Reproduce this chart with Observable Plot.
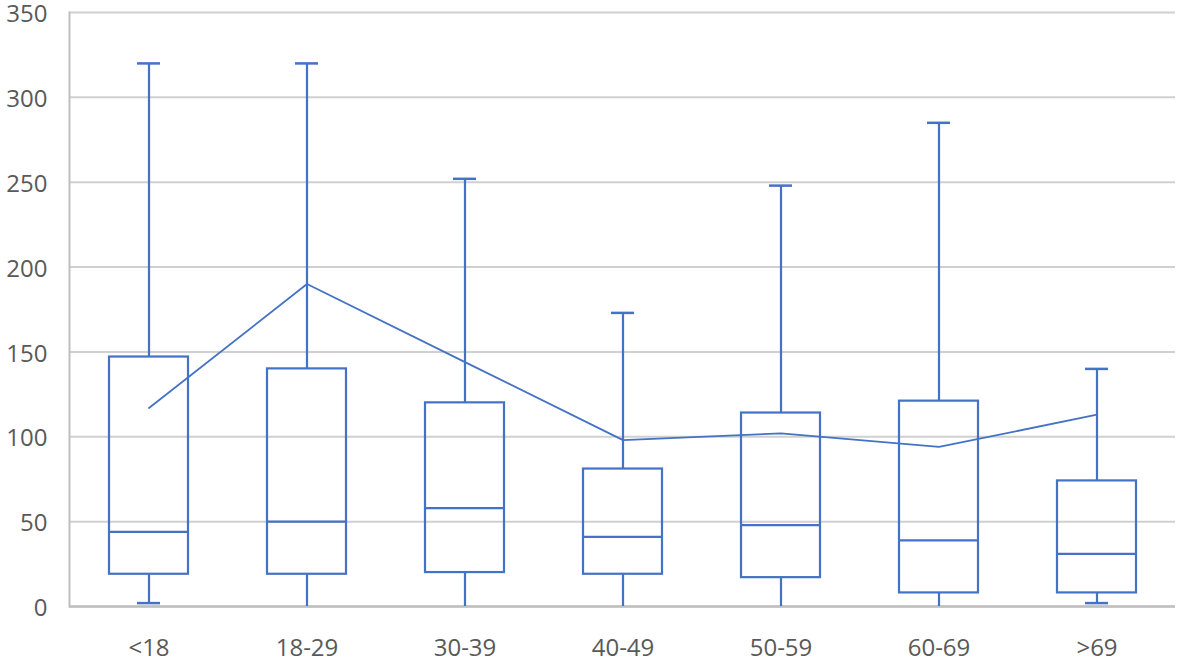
<!DOCTYPE html>
<html><head><meta charset="utf-8">
<script src="https://cdn.jsdelivr.net/npm/d3@7"></script>
<script src="https://cdn.jsdelivr.net/npm/@observablehq/plot@0.6"></script>
<style>body{margin:0;background:#fff}</style>
</head><body><div id="chart"></div>
<script>
const groups = ["<18","18-29","30-39","40-49","50-59","60-69",">69"];
const minV   = [2, 0, 0, 0, 0, 0, 2];
const q1V    = [19, 19, 20, 19, 17, 8, 8];
const medV   = [44, 50, 58, 41, 48, 39, 31];
const q3V    = [147, 140, 120, 81, 114, 121, 74];
const maxV   = [320, 320, 252, 173, 248, 285, 140];
const meanV  = [117, 190, 144, 98, 102, 94, 113];
const yTicks = [0, 50, 100, 150, 200, 250, 300, 350];

const data = groups.map((g, i) => ({g, min: minV[i], q1: q1V[i], med: medV[i], q3: q3V[i], max: maxV[i], mean: meanV[i]}));
const blue = "#4472C4";
const capData = data.filter(d => d.min > 0);

const chart = Plot.plot({
  width: 1180, height: 663,
  marginLeft: 69, marginRight: 5, marginTop: 12, marginBottom: 57,
  style: {fontFamily: "'Open Sans', sans-serif", fontSize: "24px", color: "#595959", background: "#fff", overflow: "visible"},
  x: {domain: groups, paddingInner: 0.5, paddingOuter: 0.25, label: null},
  y: {domain: [0, 350], ticks: yTicks, label: null},
  marks: [
    Plot.gridY(yTicks, {stroke: "#d0d0d0", strokeWidth: 2, strokeOpacity: 1}),
    Plot.frame({anchor: "left", stroke: "#bfbfbf", strokeWidth: 2}),
    Plot.ruleY([0], {stroke: "#bfbfbf", strokeWidth: 2.5}),
    Plot.axisY(yTicks, {tickSize: 0, tickPadding: 22, fontSize: 24, dy: 2, fill: "#595959"}),
    Plot.axisX({tickSize: 0, tickPadding: 32, fontSize: 24, fill: "#595959"}),
    Plot.ruleX(data, {x: "g", y1: "q3", y2: "max", stroke: blue, strokeWidth: 2.2}),
    Plot.ruleX(data, {x: "g", y1: "min", y2: "q1", stroke: blue, strokeWidth: 2.2}),
    Plot.tickY(data, {x: "g", y: "max", stroke: blue, strokeWidth: 2.5, insetLeft: 28, insetRight: 28}),
    Plot.tickY(capData, {x: "g", y: "min", stroke: blue, strokeWidth: 2.5, insetLeft: 28, insetRight: 28}),
    Plot.barY(data, {x: "g", y1: "q1", y2: "q3", fill: "none", stroke: blue, strokeWidth: 2.2}),
    Plot.tickY(data, {x: "g", y: "med", stroke: blue, strokeWidth: 2.2}),
    Plot.line(data, {x: "g", y: "mean", stroke: blue, strokeWidth: 1.8})
  ]
});
document.getElementById("chart").appendChild(chart);
</script>
</body></html>
